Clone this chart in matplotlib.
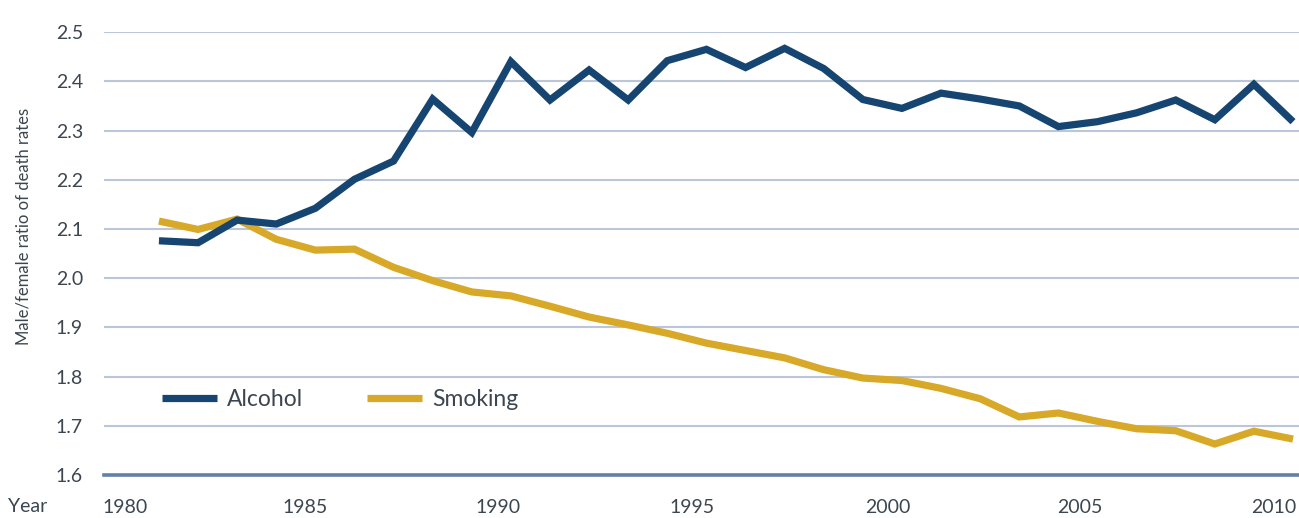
import numpy as np
import matplotlib
matplotlib.use("Agg")
import matplotlib.pyplot as plt

plt.rcParams['font.family'] = ['Lato', 'DejaVu Sans']

years = list(range(1981, 2011))
alcohol = [2.076, 2.072, 2.118, 2.110, 2.142, 2.201, 2.238, 2.364, 2.296, 2.440,
           2.362, 2.423, 2.362, 2.442, 2.465, 2.428, 2.467, 2.426, 2.363, 2.345,
           2.376, 2.364, 2.350, 2.308, 2.318, 2.336, 2.362, 2.322, 2.394, 2.318]
smoking = [2.116, 2.099, 2.120, 2.079, 2.057, 2.059, 2.022, 1.995, 1.972, 1.964,
           1.943, 1.921, 1.905, 1.888, 1.868, 1.853, 1.838, 1.814, 1.797, 1.792,
           1.776, 1.755, 1.718, 1.726, 1.709, 1.694, 1.690, 1.663, 1.689, 1.673]
tick_labels = ['1980', '1985', '1990', '1995', '2000', '2005', '2010']
y_ticks = [1.6, 1.7, 1.8, 1.9, 2.0, 2.1, 2.2, 2.3, 2.4, 2.5]

text_col = '#3c4650'
grid_col = '#bcc6da'

fig = plt.figure(figsize=(12.99, 5.18), dpi=100)
ax = fig.add_axes([0.080, 0.083, 0.920, 0.855])

for v in y_ticks[1:]:
    ax.axhline(v, color=grid_col, lw=1.5, zorder=1)
ax.axhline(1.6, color='#6580a6', lw=2.6, zorder=1, clip_on=False)

ax.plot(years, alcohol, color='#154570', lw=5.2, label='Alcohol',
        solid_capstyle='butt', solid_joinstyle='miter', zorder=3)
ax.plot(years, smoking, color='#d8a928', lw=5.2, label='Smoking',
        solid_capstyle='butt', solid_joinstyle='miter', zorder=2)

ax.set_xlim(1979.593, 2010.153)
ax.set_ylim(1.6, 2.5)

# labels sit a bit left of the data years in the original
tick_pos = [1980.13, 1984.73, 1989.67, 1994.63, 1999.64, 2004.55, 2009.52]
ax.set_xticks(tick_pos)
ax.set_xticklabels(tick_labels)
ax.set_yticks(y_ticks)
ax.set_yticklabels([f'{v:.1f}' for v in y_ticks])
ax.tick_params(axis='both', length=0, labelsize=14, labelcolor=text_col)
ax.tick_params(axis='x', pad=17)
ax.tick_params(axis='y', pad=15)

for s in ax.spines.values():
    s.set_visible(False)

fig.text(28 / 1299, 1 - 507 / 518, 'Year', ha='center', va='center',
         fontsize=14, color=text_col)
fig.text(24 / 1299, 1 - 226 / 518, 'Male/female ratio of death rates',
         rotation=90, ha='center', va='center', fontsize=12, color=text_col)

ax.legend(loc='upper left', bbox_to_anchor=(0.041, 0.215), ncol=2, frameon=False,
          fontsize=16.5, handlelength=2.4, handletextpad=0.45, columnspacing=2.75,
          labelcolor=text_col, borderaxespad=0)

fig.savefig('out.png', dpi=100)
